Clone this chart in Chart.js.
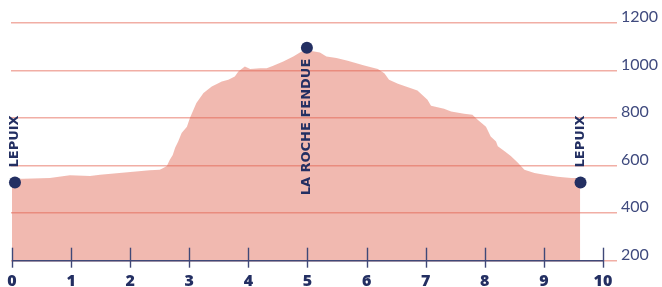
<!DOCTYPE html>
<html>
<head>
<meta charset="utf-8">
<script src="https://cdn.jsdelivr.net/npm/chart.js@4"></script>
<style>
  html, body { margin: 0; padding: 0; background: #fff; }
  #wrap { width: 662px; height: 287px; }
</style>
</head>
<body>
<div id="wrap"><canvas id="profile"></canvas></div>
<script>
// distance (km) and elevation (m) along the route
const distKm = [0, 0.05, 0.64, 0.98, 1.32, 1.49, 2.05, 2.33, 2.5, 2.56, 2.62, 2.67, 2.72, 2.76, 2.81, 2.87, 2.96, 3.01, 3.12, 3.24, 3.38, 3.55, 3.66, 3.77, 3.83, 3.94, 4.03, 4.2, 4.31, 4.42, 4.59, 4.76, 4.9, 5.04, 5.21, 5.32, 5.49, 5.68, 5.96, 6.19, 6.3, 6.38, 6.53, 6.86, 7.03, 7.09, 7.31, 7.43, 7.65, 7.79, 7.88, 8.02, 8.1, 8.19, 8.22, 8.33, 8.44, 8.56, 8.67, 8.84, 9.01, 9.23, 9.46, 9.615];
const elevM = [540, 544, 548, 560, 556, 562, 574, 580, 583, 590, 598, 625, 645, 675, 700, 737, 764, 800, 863, 905, 933, 954, 961, 975, 996, 1017, 1006, 1010, 1010, 1020, 1038, 1059, 1080, 1083, 1076, 1059, 1053, 1041, 1021, 1007, 989, 961, 944, 916, 877, 852, 839, 828, 818, 814, 793, 764, 722, 701, 682, 661, 640, 612, 583, 569, 562, 553, 548, 548];

// named places
const placeKm = [0.05, 4.99, 9.62];
const placeElev = [529, 1096, 529];
const placeNames = ['LEPUIX', 'LA ROCHE FENDUE', 'LEPUIX'];

const xTicks = [0, 1, 2, 3, 4, 5, 6, 7, 8, 9, 10];
const yTicks = [200, 400, 600, 800, 1000, 1200];

const navy = '#232f62';
const axisNavy = '#3f4878';

const profilePts = distKm.map((d, i) => ({ x: d, y: elevM[i] }));
const placePts = placeKm.map((d, i) => ({ x: d, y: placeElev[i] }));

// axis line + ticks crossing it, and the vertical place names
const decor = {
  id: 'decor',
  afterDatasetsDraw(chart) {
    const ctx = chart.ctx;
    const xs = chart.scales.x;
    const ys = chart.scales.y;
    const base = chart.chartArea.bottom;
    ctx.save();
    ctx.strokeStyle = axisNavy;
    ctx.lineWidth = 1.6;
    ctx.beginPath();
    ctx.moveTo(xs.getPixelForValue(xTicks[0]), base);
    ctx.lineTo(xs.getPixelForValue(xTicks[xTicks.length - 1]), base);
    ctx.stroke();
    ctx.lineWidth = 1.4;
    xTicks.forEach(v => {
      const px = Math.round(xs.getPixelForValue(v)) + 0.5;
      ctx.beginPath();
      ctx.moveTo(px, base - 13);
      ctx.lineTo(px, base + 7);
      ctx.stroke();
    });

    ctx.fillStyle = navy;
    ctx.font = 'bold 13px "DejaVu Sans"';
    ctx.textBaseline = 'middle';
    placeNames.forEach((name, i) => {
      const px = xs.getPixelForValue(placeKm[i]);
      const py = ys.getPixelForValue(placeElev[i]);
      ctx.save();
      ctx.translate(px, py);
      ctx.rotate(-Math.PI / 2);
      if (i === 1) {
        ctx.textAlign = 'right';
        ctx.fillText(name, -11, 0);
      } else {
        ctx.textAlign = 'left';
        ctx.fillText(name, 15, 0);
      }
      ctx.restore();
    });
    ctx.restore();
  }
};

new Chart(document.getElementById('profile'), {
  type: 'line',
  data: {
    datasets: [{
      data: profilePts,
      fill: 'start',
      backgroundColor: 'rgba(225, 100, 80, 0.45)',
      borderWidth: 0,
      pointRadius: 0,
      tension: 0,
      order: 2
    }, {
      data: placePts,
      showLine: false,
      pointRadius: 6,
      pointBackgroundColor: navy,
      pointBorderWidth: 0,
      clip: false,
      order: 1
    }]
  },
  options: {
    responsive: true,
    maintainAspectRatio: false,
    animation: false,
    layout: { padding: { left: 11, top: 23, right: 0, bottom: 0 } },
    plugins: { legend: { display: false }, tooltip: { enabled: false } },
    scales: {
      x: {
        type: 'linear',
        min: -0.017,
        max: 10.237,
        afterBuildTicks: s => { s.ticks = xTicks.map(v => ({ value: v })); },
        grid: { display: false },
        border: { display: false },
        ticks: {
          color: navy,
          font: { family: 'Open Sans', size: 16, weight: 800 },
          padding: 3,
          maxRotation: 0,
          callback: v => String(v)
        },
        afterFit: s => { s.height = 26.3; }
      },
      y: {
        position: 'right',
        min: 200,
        max: 1200,
        afterBuildTicks: s => { s.ticks = yTicks.map(v => ({ value: v })); },
        grid: { color: 'rgba(232, 120, 105, 0.6)', lineWidth: 1.5, drawTicks: false },
        border: { display: false },
        ticks: {
          color: '#3f4a7e',
          font: { family: 'Lato', size: 16, weight: 400 },
          padding: 4,
          labelOffset: -6,
          callback: v => String(v)
        },
        afterFit: s => { s.width = 45; }
      }
    }
  },
  plugins: [decor]
});
</script>
</body>
</html>
